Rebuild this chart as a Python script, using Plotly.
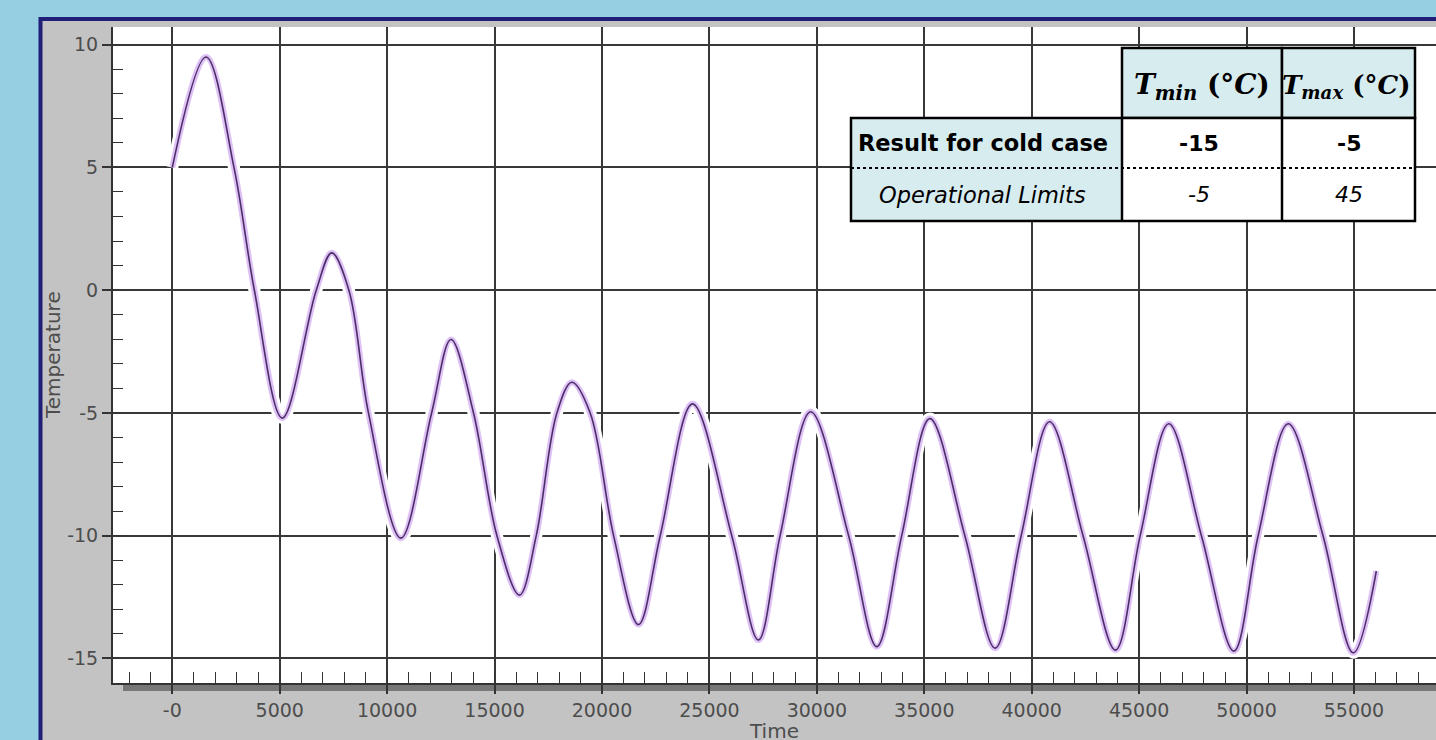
import plotly.graph_objects as go

# ---------------- data ----------------
time_s = [0, 1570, 2870, 3820, 5120, 6700, 7420, 8220, 9130, 10640, 12070, 12970,
          14020, 15110, 16160, 16940, 17900, 18600, 19450, 20540, 21700, 22710,
          24210, 26040, 27280, 28290, 29710, 31480, 32790, 33950,
          35260, 36890, 38300, 39510, 40830, 42390, 43900, 45050, 46380, 47900,
          49410, 50540, 51940, 53560, 54970, 56040]
temp_c = [5.0, 9.5, 5.0, 0.0, -5.21, 0.0, 1.52, 0.0, -5.0, -10.1, -5.0, -2.01,
          -5.0, -10.0, -12.42, -10.0, -5.0, -3.75, -5.0, -10.0, -13.62, -10.0,
          -4.63, -10.0, -14.25, -10.0, -4.95, -10.0, -14.52, -10.0,
          -5.23, -10.0, -14.58, -10.0, -5.36, -10.0, -14.66, -10.0, -5.44, -10.0,
          -14.7, -10.0, -5.44, -10.0, -14.77, -11.44]

x_tick_vals = [0, 5000, 10000, 15000, 20000, 25000, 30000, 35000, 40000, 45000, 50000, 55000]
x_tick_text = ["-0", "5000", "10000", "15000", "20000", "25000", "30000", "35000",
               "40000", "45000", "50000", "55000"]
y_tick_vals = [10, 5, 0, -5, -10, -15]
y_tick_text = ["10", "5", "0", "-5", "-10", "-15"]

table_header = ["<b><i>T</i></b><sub><b><i>min</i></b></sub><b> (°<i>C</i>)</b>",
                "<b><i>T</i></b><sub><b><i>max</i></b></sub><b> (°<i>C</i>)</b>"]
table_header_size = [28, 26]
table_rows = ["<b>Result for cold case</b>", "<i>Operational Limits</i>"]
table_tmin = ["<b>-15</b>", "<i>-5</i>"]
table_tmax = ["<b>-5</b>", "<i>45</i>"]

# ---------------- layout geometry (pixels) ----------------
FIG_W, FIG_H = 1436, 740
L, R_EDGE, T, B = 113, 1436, 27, 683
W, H = R_EDGE - L, B - T


def xp(px):
    return (px - L) / W


def yp(py):
    return (B - py) / H


GRID = "#383838"
TICKC = "#333333"
LABC = "#4d4d4d"
CYAN = "#d7ecef"

fig = go.Figure()

# curve: white halo, lavender glow, dark line
fig.add_trace(go.Scatter(x=time_s, y=temp_c, mode="lines",
                         line=dict(color="white", width=12, shape="spline"),
                         hoverinfo="skip", showlegend=False))
fig.add_trace(go.Scatter(x=time_s, y=temp_c, mode="lines",
                         line=dict(color="rgba(210,165,242,0.7)", width=6, shape="spline"),
                         hoverinfo="skip", showlegend=False))
fig.add_trace(go.Scatter(x=time_s, y=temp_c, mode="lines",
                         line=dict(color="#4a2f66", width=1.6, shape="spline"),
                         showlegend=False))

shapes = []
# gray panel
shapes.append(dict(type="rect", xref="paper", yref="paper", layer="below",
                   x0=xp(42), x1=xp(1500), y0=yp(800), y1=yp(20),
                   fillcolor="#c3c3c3", line=dict(width=0)))
# navy frame
shapes.append(dict(type="rect", xref="paper", yref="paper", layer="below",
                   x0=xp(40.5), x1=xp(1520), y0=yp(820), y1=yp(19),
                   fillcolor="rgba(0,0,0,0)", line=dict(color="#1f1f78", width=4)))
# shadow under plot area
shapes.append(dict(type="rect", xref="paper", yref="paper", layer="below",
                   x0=xp(123), x1=xp(1500), y0=yp(691), y1=yp(683),
                   fillcolor="#777777", line=dict(width=0)))
# white plot area
shapes.append(dict(type="rect", xref="paper", yref="paper", layer="below",
                   x0=0, x1=1, y0=0, y1=1, fillcolor="white", line=dict(width=0)))

# ---------------- table ----------------
cols = [851, 1122, 1282, 1415]
rows = [48, 118, 168, 221]
BW = 2.5
for c in range(2):
    shapes.append(dict(type="rect", xref="paper", yref="paper", layer="above",
                       x0=xp(cols[c + 1]), x1=xp(cols[c + 2]), y0=yp(rows[1]), y1=yp(rows[0]),
                       fillcolor=CYAN, line=dict(color="black", width=BW)))
shapes.append(dict(type="rect", xref="paper", yref="paper", layer="above",
                   x0=xp(cols[0]), x1=xp(cols[1]), y0=yp(rows[3]), y1=yp(rows[1]),
                   fillcolor=CYAN, line=dict(width=0)))
shapes.append(dict(type="rect", xref="paper", yref="paper", layer="above",
                   x0=xp(cols[1]), x1=xp(cols[3]), y0=yp(rows[3]), y1=yp(rows[1]),
                   fillcolor="white", line=dict(width=0)))
shapes.append(dict(type="line", xref="paper", yref="paper", layer="above",
                   x0=xp(cols[0]), x1=xp(cols[3]), y0=yp(rows[2]), y1=yp(rows[2]),
                   line=dict(color="black", width=2, dash="dot")))
shapes.append(dict(type="rect", xref="paper", yref="paper", layer="above",
                   x0=xp(cols[0]), x1=xp(cols[3]), y0=yp(rows[3]), y1=yp(rows[1]),
                   fillcolor="rgba(0,0,0,0)", line=dict(color="black", width=BW)))
for cx in cols[1:3]:
    shapes.append(dict(type="line", xref="paper", yref="paper", layer="above",
                       x0=xp(cx), x1=xp(cx), y0=yp(rows[3]), y1=yp(rows[1]),
                       line=dict(color="black", width=BW)))

annotations = []
for i, txt in enumerate(table_header):
    annotations.append(dict(xref="paper", yref="paper", showarrow=False,
                            x=xp((cols[i + 1] + cols[i + 2]) / 2 - 2 * i), y=yp((rows[0] + rows[1]) / 2 + 4),
                            xanchor="center", yanchor="middle", text=txt,
                            font=dict(family="DejaVu Serif", size=table_header_size[i], color="black")))
for r in range(2):
    cy = (rows[r + 1] + rows[r + 2]) / 2
    annotations.append(dict(xref="paper", yref="paper", showarrow=False,
                            x=xp((cols[0] + cols[1]) / 2 - 4), y=yp(cy),
                            xanchor="center", yanchor="middle", text=table_rows[r],
                            font=dict(family="DejaVu Sans", size=22.5, color="black")))
    annotations.append(dict(xref="paper", yref="paper", showarrow=False,
                            x=xp((cols[1] + cols[2]) / 2 - 3), y=yp(cy),
                            xanchor="center", yanchor="middle", text=table_tmin[r],
                            font=dict(family="DejaVu Sans", size=22, color="black")))
    annotations.append(dict(xref="paper", yref="paper", showarrow=False,
                            x=xp((cols[2] + cols[3]) / 2), y=yp(cy),
                            xanchor="center", yanchor="middle", text=table_tmax[r],
                            font=dict(family="DejaVu Sans", size=22, color="black")))

# axis titles
annotations.append(dict(xref="paper", yref="paper", showarrow=False,
                        x=xp(53), y=yp(355), xanchor="center", yanchor="middle",
                        text="Temperature", textangle=-90,
                        font=dict(family="DejaVu Sans", size=20, color=LABC)))
annotations.append(dict(xref="paper", yref="paper", showarrow=False,
                        x=xp(774), y=yp(717), xanchor="center", yanchor="top",
                        text="Time",
                        font=dict(family="DejaVu Sans", size=20, color=LABC)))

fig.update_layout(
    width=FIG_W, height=FIG_H, autosize=False,
    margin=dict(l=L, r=FIG_W - R_EDGE, t=T, b=FIG_H - B, pad=0),
    paper_bgcolor="#96cfe1", plot_bgcolor="rgba(0,0,0,0)",
    shapes=shapes, annotations=annotations, showlegend=False,
    xaxis=dict(range=[-2760, 58818], tickmode="array", tickvals=x_tick_vals,
               ticktext=x_tick_text, showgrid=True, gridcolor=GRID, gridwidth=1.7,
               zeroline=False, showline=True, linecolor=TICKC, linewidth=2,
               ticks="outside", ticklen=9, tickwidth=1.7, tickcolor=TICKC,
               tickfont=dict(family="DejaVu Sans", size=19, color=LABC),
               minor=dict(tickmode="linear", tick0=0, dtick=1000, ticks="inside",
                          ticklen=11, tickwidth=1.4, tickcolor=TICKC, showgrid=False)),
    yaxis=dict(range=[-16.0, 10.72], tickmode="array", tickvals=y_tick_vals,
               ticktext=y_tick_text, showgrid=True, gridcolor=GRID, gridwidth=1.7,
               zeroline=False, showline=True, linecolor=TICKC, linewidth=2,
               ticks="outside", ticklen=9, tickwidth=1.7, tickcolor=TICKC,
               tickfont=dict(family="DejaVu Sans", size=19, color=LABC),
               minor=dict(tickmode="linear", tick0=0, dtick=1, ticks="inside",
                          ticklen=10, tickwidth=1.4, tickcolor=TICKC, showgrid=False)),
)

fig.write_html("out.html")
